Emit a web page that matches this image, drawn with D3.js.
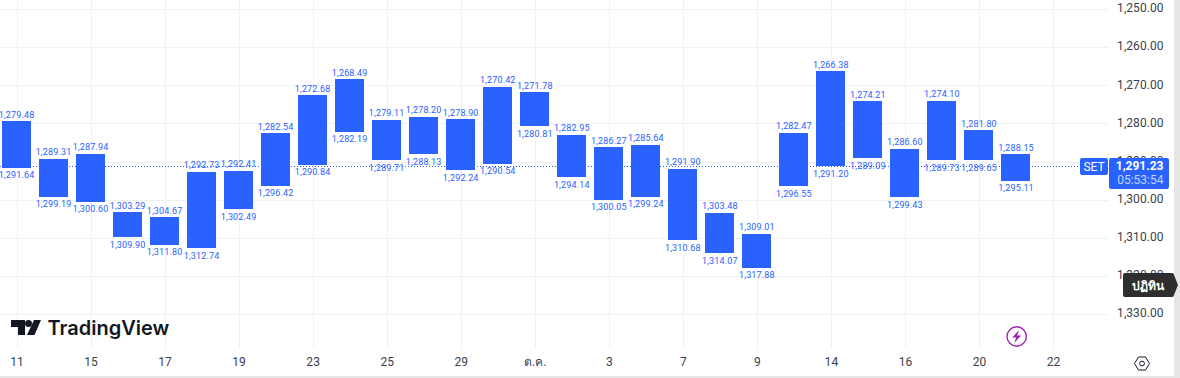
<!DOCTYPE html>
<html lang="en">
<head>
  <meta charset="UTF-8">
  <title>SET - TradingView</title>
  <script src="https://d3js.org/d3.v7.min.js"></script>
  <style>
    html, body { margin: 0; padding: 0; background: #fff; overflow: hidden; }
    svg { display: block; font-family: Roboto, Arial, sans-serif; }
    .grid line { stroke: #f0f1f3; stroke-width: 1; shape-rendering: crispEdges; }
    .axis text { fill: #3c404b; font-size: 12px; font-family: Roboto, Arial, sans-serif; letter-spacing: 0.05px; }
    .axis path, .axis line { display: none; }
    .val { fill: #2962ff; font-size: 9px; text-anchor: middle; letter-spacing: 0.15px; }
  </style>
</head>
<body>
  <div id="chart"></div>
  <script>
    // one id per session, the axis only shows every second one
    const dates = ["09-11", "09-12", "09-15", "09-16", "09-17", "09-18", "09-19", "09-22", "09-23", "09-24",
      "09-25", "09-26", "09-29", "09-30", "10-01", "10-02", "10-03", "10-06", "10-07", "10-08", "10-09",
      "10-13", "10-14", "10-15", "10-16", "10-17", "10-20", "10-21", "10-22"];
    const tickDates = ["09-11", "09-15", "09-17", "09-19", "09-23", "09-25", "09-29", "10-01", "10-03",
      "10-07", "10-09", "10-14", "10-16", "10-20", "10-22"];
    const tickLabels = ["11", "15", "17", "19", "23", "25", "29", "ต.ค.", "3", "7", "9", "14", "16", "20", "22"];
    const topValues = [1279.48, 1289.31, 1287.94, 1303.29, 1304.67, 1292.73, 1292.41, 1282.54, 1272.68, 1268.49,
      1279.11, 1278.20, 1278.90, 1270.42, 1271.78, 1282.95, 1286.27, 1285.64, 1291.90, 1303.48,
      1309.01, 1282.47, 1266.38, 1274.21, 1286.60, 1274.10, 1281.80, 1288.15];
    const bottomValues = [1291.64, 1299.19, 1300.60, 1309.90, 1311.80, 1312.74, 1302.49, 1296.42, 1290.84, 1282.19,
      1289.71, 1288.13, 1292.24, 1290.54, 1280.81, 1294.14, 1300.05, 1299.24, 1310.68, 1314.07,
      1317.88, 1296.55, 1291.20, 1289.09, 1299.43, 1289.73, 1289.65, 1295.11];
    const priceTicks = [1250, 1260, 1270, 1280, 1290, 1300, 1310, 1320, 1330];
    const lastPrice = 1291.23;

    const width = 1180, height = 378;
    const paneRight = 1108, paneBottom = 349;
    const blue = "#2962ff";

    const x = d3.scalePoint().domain(dates).range([16.5, 1053]);
    const y = d3.scaleLinear().domain([1250, 1330]).range([9, 314]);
    const fmt = d3.format(",.2f");

    const svg = d3.select("#chart").append("svg")
      .attr("width", width)
      .attr("height", height);

    // Gridlines
    svg.append("g").attr("class", "grid")
      .selectAll("line").data(priceTicks).enter().append("line")
      .attr("x1", 0).attr("x2", paneRight)
      .attr("y1", d => Math.round(y(d)) + 0.5).attr("y2", d => Math.round(y(d)) + 0.5);
    svg.append("g").attr("class", "grid")
      .selectAll("line").data(tickDates).enter().append("line")
      .attr("x1", d => Math.round(x(d)) + 0.5).attr("x2", d => Math.round(x(d)) + 0.5)
      .attr("y1", 0).attr("y2", paneBottom);

    // Last price line
    svg.append("line")
      .attr("x1", 0).attr("x2", 1080)
      .attr("y1", Math.round(y(lastPrice)) + 0.5).attr("y2", Math.round(y(lastPrice)) + 0.5)
      .attr("stroke", blue).attr("stroke-dasharray", "1 2");

    // Bars
    const barW = 29;
    const bars = topValues.map((t, i) => ({ date: dates[i], top: t, bottom: bottomValues[i] }));
    svg.selectAll("rect.bar").data(bars).enter().append("rect")
      .attr("class", "bar")
      .attr("x", d => Math.round(x(d.date) - barW / 2))
      .attr("width", barW)
      .attr("y", d => y(d.top))
      .attr("height", d => y(d.bottom) - y(d.top))
      .attr("fill", blue)
      .attr("shape-rendering", "crispEdges");

    // Value labels above and below each bar
    svg.selectAll("text.top").data(bars).enter().append("text")
      .attr("class", "val top")
      .attr("x", d => x(d.date))
      .attr("y", d => y(d.top) - 3.5)
      .text(d => fmt(d.top));
    svg.selectAll("text.bottom").data(bars).enter().append("text")
      .attr("class", "val bottom")
      .attr("x", d => x(d.date))
      .attr("y", d => y(d.bottom) + 10.5)
      .text(d => fmt(d.bottom));

    // Axes
    svg.append("g").attr("class", "axis")
      .attr("transform", "translate(1163.5,-1)")
      .call(d3.axisRight(y).tickValues(priceTicks).tickFormat(fmt).tickSize(0).tickPadding(0))
      .selectAll("text").attr("text-anchor", "end");
    svg.append("g").attr("class", "axis")
      .attr("transform", `translate(0,${paneBottom})`)
      .call(d3.axisBottom(x).tickValues(tickDates)
        .tickFormat(d => tickLabels[tickDates.indexOf(d)]).tickSize(0).tickPadding(8));

    // Window edges
    svg.append("rect").attr("x", 1174).attr("y", 0).attr("width", 6).attr("height", height).attr("fill", "#e6e6e6");
    svg.append("rect").attr("x", 0).attr("y", 376).attr("width", width).attr("height", 2).attr("fill", "#e6e6e6");

    // Last price tags
    svg.append("rect").attr("x", 1080).attr("y", 158).attr("width", 28).attr("height", 17).attr("rx", 2).attr("fill", blue);
    svg.append("text").attr("x", 1094).attr("y", 171).attr("text-anchor", "middle")
      .attr("fill", "#fff").style("font-size", "12px").text("SET");
    svg.append("rect").attr("x", 1109).attr("y", 158).attr("width", 60).attr("height", 31).attr("rx", 2).attr("fill", blue);
    svg.append("text").attr("x", 1163.5).attr("y", 170).attr("text-anchor", "end")
      .attr("fill", "#fff").style("font-size", "12px").style("font-weight", "700").text(fmt(lastPrice));
    svg.append("text").attr("x", 1163.5).attr("y", 184).attr("text-anchor", "end")
      .attr("fill", "#c3d3ff").style("font-size", "12px").text("05:53:54");

    // Tooltip
    svg.append("path").attr("d", "M1125 273H1172a2 2 0 0 1 2 2L1178 285L1174 295a2 2 0 0 1 -2 2H1125a2 2 0 0 1 -2 -2V275a2 2 0 0 1 2 -2Z")
      .attr("fill", "#2e2e2e");
    svg.append("text").attr("x", 1148).attr("y", 289.5).attr("text-anchor", "middle")
      .attr("fill", "#fff").style("font-size", "12px").style("font-weight", "700")
      .style("font-family", "'Noto Sans', 'DejaVu Sans', sans-serif").text("ปฏิทิน");

    // TradingView logo
    const logo = svg.append("g").attr("transform", "translate(11,320)").attr("fill", "#131722");
    logo.append("path").attr("d", "M0 0H14V15H7V7H0Z");
    logo.append("circle").attr("cx", 17.5).attr("cy", 3.5).attr("r", 3.5);
    logo.append("path").attr("d", "M23 0H30L23.5 15H16Z");
    svg.append("text").attr("x", 47.5).attr("y", 335).attr("fill", "#131722")
      .style("font-size", "20px").style("font-weight", "600")
      .style("font-family", "Inter, Roboto, sans-serif").text("TradingView");

    // Purple event marker
    svg.append("circle").attr("cx", 1016.7).attr("cy", 336.5).attr("r", 9.7)
      .attr("fill", "#fff").attr("stroke", "#9c27b0").attr("stroke-width", 1.4);
    svg.append("path").attr("d", "M1019.2 330L1012.2 337.5H1016.2L1014.2 343L1021.2 335.5H1017.2Z").attr("fill", "#9c27b0");

    // Settings icon
    svg.append("path").attr("d", "M1134.5 363.5L1138.5 357H1145.5L1149.5 363.5L1145.5 370H1138.5Z")
      .attr("fill", "none").attr("stroke", "#131722").attr("stroke-width", 1);
    svg.append("circle").attr("cx", 1142).attr("cy", 363.5).attr("r", 2.4)
      .attr("fill", "none").attr("stroke", "#131722").attr("stroke-width", 1);
  </script>
</body>
</html>
